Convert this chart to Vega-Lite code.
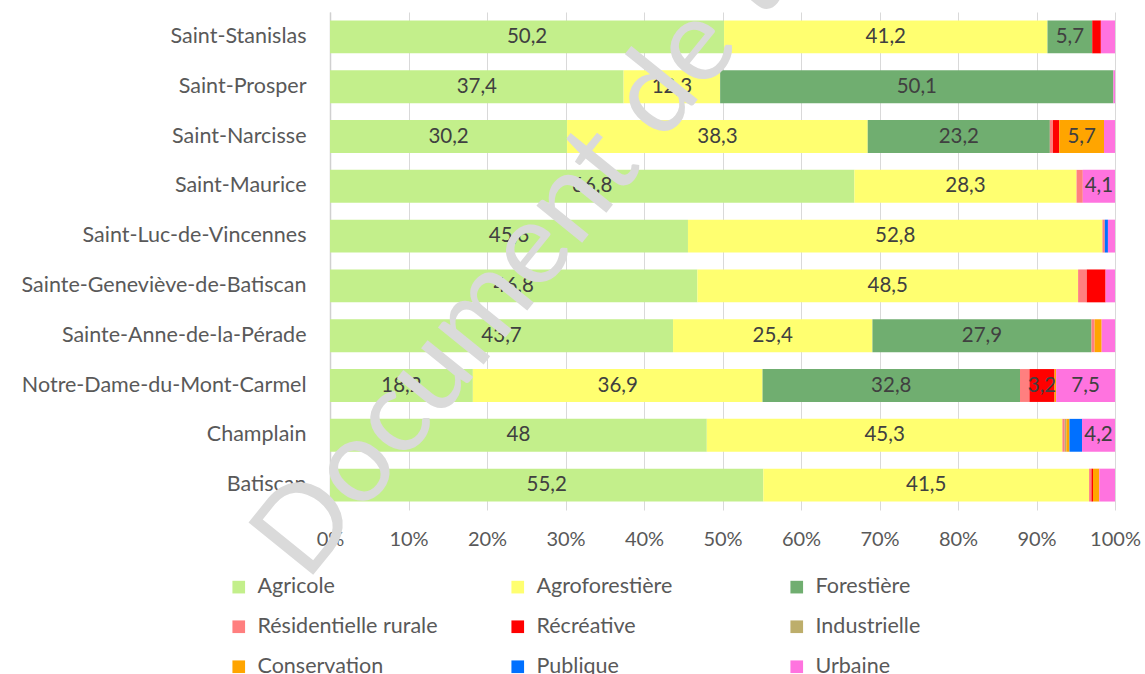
{
  "$schema": "https://vega.github.io/schema/vega-lite/v6.json",
  "width": 785,
  "height": 498,
  "autosize": {"type": "none"},
  "padding": {"left": 330, "top": 12, "right": 30, "bottom": 164},
  "config": {
    "font": "Lato",
    "view": {"stroke": null},
    "locale": {"number": {"decimal": ",", "thousands": " ", "grouping": [3], "currency": ["", " $"]}}
  },
  "datasets": {
    "affectations": [
      {"affectation": "Agricole", "rang": 1},
      {"affectation": "Agroforestière", "rang": 2},
      {"affectation": "Forestière", "rang": 3},
      {"affectation": "Résidentielle rurale", "rang": 4},
      {"affectation": "Récréative", "rang": 5},
      {"affectation": "Industrielle", "rang": 6},
      {"affectation": "Conservation", "rang": 7},
      {"affectation": "Publique", "rang": 8},
      {"affectation": "Urbaine", "rang": 9}
    ],
    "superficies": [
      {"municipalite": "Saint-Stanislas", "affectation": "Agricole", "pct": 50.2},
      {"municipalite": "Saint-Stanislas", "affectation": "Agroforestière", "pct": 41.2},
      {"municipalite": "Saint-Stanislas", "affectation": "Forestière", "pct": 5.7},
      {"municipalite": "Saint-Stanislas", "affectation": "Récréative", "pct": 1.1},
      {"municipalite": "Saint-Stanislas", "affectation": "Urbaine", "pct": 1.8},
      {"municipalite": "Saint-Prosper", "affectation": "Agricole", "pct": 37.4},
      {"municipalite": "Saint-Prosper", "affectation": "Agroforestière", "pct": 12.3},
      {"municipalite": "Saint-Prosper", "affectation": "Forestière", "pct": 50.1},
      {"municipalite": "Saint-Prosper", "affectation": "Urbaine", "pct": 0.2},
      {"municipalite": "Saint-Narcisse", "affectation": "Agricole", "pct": 30.2},
      {"municipalite": "Saint-Narcisse", "affectation": "Agroforestière", "pct": 38.3},
      {"municipalite": "Saint-Narcisse", "affectation": "Forestière", "pct": 23.2},
      {"municipalite": "Saint-Narcisse", "affectation": "Résidentielle rurale", "pct": 0.4},
      {"municipalite": "Saint-Narcisse", "affectation": "Récréative", "pct": 0.8},
      {"municipalite": "Saint-Narcisse", "affectation": "Conservation", "pct": 5.7},
      {"municipalite": "Saint-Narcisse", "affectation": "Urbaine", "pct": 1.4},
      {"municipalite": "Saint-Maurice", "affectation": "Agricole", "pct": 66.8},
      {"municipalite": "Saint-Maurice", "affectation": "Agroforestière", "pct": 28.3},
      {"municipalite": "Saint-Maurice", "affectation": "Résidentielle rurale", "pct": 0.8},
      {"municipalite": "Saint-Maurice", "affectation": "Urbaine", "pct": 4.1},
      {"municipalite": "Saint-Luc-de-Vincennes", "affectation": "Agricole", "pct": 45.6},
      {"municipalite": "Saint-Luc-de-Vincennes", "affectation": "Agroforestière", "pct": 52.8},
      {"municipalite": "Saint-Luc-de-Vincennes", "affectation": "Résidentielle rurale", "pct": 0.3},
      {"municipalite": "Saint-Luc-de-Vincennes", "affectation": "Publique", "pct": 0.4},
      {"municipalite": "Saint-Luc-de-Vincennes", "affectation": "Urbaine", "pct": 0.9},
      {"municipalite": "Sainte-Geneviève-de-Batiscan", "affectation": "Agricole", "pct": 46.8},
      {"municipalite": "Sainte-Geneviève-de-Batiscan", "affectation": "Agroforestière", "pct": 48.5},
      {"municipalite": "Sainte-Geneviève-de-Batiscan", "affectation": "Résidentielle rurale", "pct": 1.1},
      {"municipalite": "Sainte-Geneviève-de-Batiscan", "affectation": "Récréative", "pct": 2.4},
      {"municipalite": "Sainte-Geneviève-de-Batiscan", "affectation": "Urbaine", "pct": 1.2},
      {"municipalite": "Sainte-Anne-de-la-Pérade", "affectation": "Agricole", "pct": 43.7},
      {"municipalite": "Sainte-Anne-de-la-Pérade", "affectation": "Agroforestière", "pct": 25.4},
      {"municipalite": "Sainte-Anne-de-la-Pérade", "affectation": "Forestière", "pct": 27.9},
      {"municipalite": "Sainte-Anne-de-la-Pérade", "affectation": "Résidentielle rurale", "pct": 0.4},
      {"municipalite": "Sainte-Anne-de-la-Pérade", "affectation": "Conservation", "pct": 0.9},
      {"municipalite": "Sainte-Anne-de-la-Pérade", "affectation": "Urbaine", "pct": 1.7},
      {"municipalite": "Notre-Dame-du-Mont-Carmel", "affectation": "Agricole", "pct": 18.2},
      {"municipalite": "Notre-Dame-du-Mont-Carmel", "affectation": "Agroforestière", "pct": 36.9},
      {"municipalite": "Notre-Dame-du-Mont-Carmel", "affectation": "Forestière", "pct": 32.8},
      {"municipalite": "Notre-Dame-du-Mont-Carmel", "affectation": "Résidentielle rurale", "pct": 1.2},
      {"municipalite": "Notre-Dame-du-Mont-Carmel", "affectation": "Récréative", "pct": 3.2},
      {"municipalite": "Notre-Dame-du-Mont-Carmel", "affectation": "Conservation", "pct": 0.2},
      {"municipalite": "Notre-Dame-du-Mont-Carmel", "affectation": "Urbaine", "pct": 7.5},
      {"municipalite": "Champlain", "affectation": "Agricole", "pct": 48},
      {"municipalite": "Champlain", "affectation": "Agroforestière", "pct": 45.3},
      {"municipalite": "Champlain", "affectation": "Résidentielle rurale", "pct": 0.3},
      {"municipalite": "Champlain", "affectation": "Industrielle", "pct": 0.2},
      {"municipalite": "Champlain", "affectation": "Conservation", "pct": 0.4},
      {"municipalite": "Champlain", "affectation": "Publique", "pct": 1.6},
      {"municipalite": "Champlain", "affectation": "Urbaine", "pct": 4.2},
      {"municipalite": "Batiscan", "affectation": "Agricole", "pct": 55.2},
      {"municipalite": "Batiscan", "affectation": "Agroforestière", "pct": 41.5},
      {"municipalite": "Batiscan", "affectation": "Résidentielle rurale", "pct": 0.3},
      {"municipalite": "Batiscan", "affectation": "Récréative", "pct": 0.2},
      {"municipalite": "Batiscan", "affectation": "Conservation", "pct": 0.8},
      {"municipalite": "Batiscan", "affectation": "Urbaine", "pct": 2.0}
    ]
  },
  "layer": [
    {
      "data": {"name": "superficies"},
      "transform": [
        {"lookup": "affectation", "from": {"data": {"name": "affectations"}, "key": "affectation", "fields": ["rang"]}}
      ],
      "mark": {"type": "bar"},
      "encoding": {
        "y": {
          "field": "municipalite",
          "type": "nominal",
          "sort": ["Saint-Stanislas", "Saint-Prosper", "Saint-Narcisse", "Saint-Maurice", "Saint-Luc-de-Vincennes", "Sainte-Geneviève-de-Batiscan", "Sainte-Anne-de-la-Pérade", "Notre-Dame-du-Mont-Carmel", "Champlain", "Batiscan"],
          "scale": {"paddingInner": 0.34, "paddingOuter": 0.17},
          "axis": {"title": null, "labelFontSize": 21.5, "labelColor": "#595959", "labelPadding": 24, "ticks": false, "domainColor": "#d0d0d0", "domainWidth": 1.5, "labelLimit": 400}
        },
        "x": {
          "field": "pct",
          "type": "quantitative",
          "stack": "normalize",
          "axis": {"title": null, "format": "%", "values": [0, 0.1, 0.2, 0.3, 0.4, 0.5, 0.6, 0.7, 0.8, 0.9, 1], "labelFontSize": 20, "labelColor": "#595959", "grid": true, "gridColor": "#d9d9d9", "domain": false, "ticks": false, "labelPadding": 19, "labelFlush": false}
        },
        "order": {"field": "rang", "type": "quantitative", "sort": "ascending"},
        "color": {
          "field": "affectation",
          "type": "nominal",
          "scale": {
            "domain": ["Agricole", "Agroforestière", "Forestière", "Résidentielle rurale", "Récréative", "Industrielle", "Conservation", "Publique", "Urbaine"],
            "range": ["#c3ef8b", "#ffff70", "#70ae70", "#ff7f7f", "#ff0000", "#bdae6b", "#ffa500", "#0070ff", "#ff73df"]
          },
          "legend": {"title": null, "orient": "none", "legendX": -102, "legendY": 564, "direction": "horizontal", "columns": 3, "symbolType": "square", "symbolSize": 160, "symbolStrokeWidth": 0, "labelFontSize": 21.5, "labelColor": "#595959", "labelLimit": 400, "columnPadding": 69, "rowPadding": 17, "gridAlign": "all", "labelOffset": 8, "padding": 0}
        }
      }
    },
    {
      "data": {"name": "superficies"},
      "transform": [
        {"lookup": "affectation", "from": {"data": {"name": "affectations"}, "key": "affectation", "fields": ["rang"]}}
      ],
      "mark": {"type": "text", "fontSize": 20.5, "color": "#404040", "baseline": "middle", "align": "center"},
      "encoding": {
        "y": {"field": "municipalite", "type": "nominal", "sort": ["Saint-Stanislas", "Saint-Prosper", "Saint-Narcisse", "Saint-Maurice", "Saint-Luc-de-Vincennes", "Sainte-Geneviève-de-Batiscan", "Sainte-Anne-de-la-Pérade", "Notre-Dame-du-Mont-Carmel", "Champlain", "Batiscan"]},
        "x": {"field": "pct", "type": "quantitative", "stack": "normalize", "bandPosition": 0.5},
        "detail": {"field": "affectation"},
        "order": {"field": "rang", "type": "quantitative", "sort": "ascending"},
        "text": {"condition": {"test": "datum.pct < 3", "value": ""}, "field": "pct", "type": "quantitative", "format": ".1~f"}
      }
    },
    {
      "data": {"values": [{"texte": "Document de travail"}]},
      "mark": {"type": "text", "angle": -51, "fontSize": 116, "color": "#dadada", "align": "left", "baseline": "alphabetic", "dx": -126},
      "encoding": {
        "text": {"field": "texte"},
        "x": {"datum": 0.071, "type": "quantitative"},
        "y": {"datum": "Batiscan", "type": "nominal"}
      }
    }
  ]
}
